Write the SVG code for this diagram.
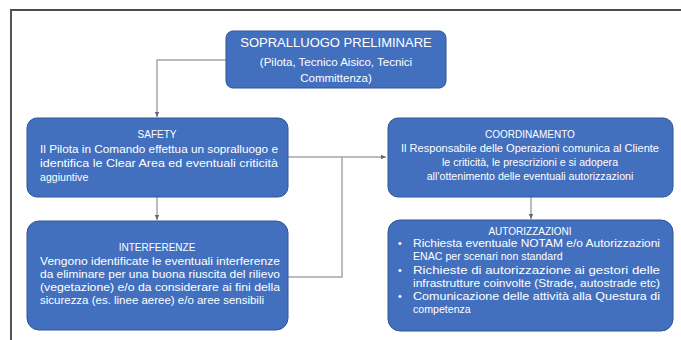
<svg xmlns="http://www.w3.org/2000/svg" width="681" height="340" viewBox="0 0 681 340">
<style>
.box{fill:#4270bf;stroke:#2f5597;stroke-width:1}
.t{font-family:"Liberation Sans","Open Sans",sans-serif;fill:#ffffff;font-size:10.6px}
.h{text-anchor:middle;font-size:10px}
.c{text-anchor:middle}
.big{font-size:13px}
.mid{font-size:11.5px}
.conn{fill:none;stroke:#a6a6a6;stroke-width:1.5}
</style>
<defs>
<marker id="ah" markerWidth="6" markerHeight="6" refX="5" refY="3" orient="auto" markerUnits="userSpaceOnUse">
<path d="M0,0.8 L5,3 L0,5.2 Z" fill="#5a6a80"/>
</marker>
</defs>
<rect x="0" y="0" width="681" height="340" fill="#ffffff"/>
<g id="frame">
<line x1="10" y1="10" x2="681" y2="10" stroke="#111" stroke-width="1.5"/>
<line x1="11" y1="10" x2="11" y2="340" stroke="#555" stroke-width="2"/>
</g>
<g id="connectors">
<polyline class="conn" points="226,60 157,60 157,117" marker-end="url(#ah)"/>
<line class="conn" x1="157" y1="197" x2="157" y2="220" marker-end="url(#ah)"/>
<polyline class="conn" points="288,157 386,157" marker-end="url(#ah)"/>
<polyline class="conn" points="288,277 342,277 342,157"/>
<line class="conn" x1="531" y1="197" x2="531" y2="219" marker-end="url(#ah)"/>
</g>
<g id="sopralluogo">
<rect class="box" x="226" y="31" width="220" height="57" rx="7"/>
<text class="t c big" x="336" y="47">SOPRALLUOGO PRELIMINARE</text>
<text class="t c mid" x="336" y="66">(Pilota, Tecnico Aisico, Tecnici</text>
<text class="t c mid" x="336" y="82">Committenza)</text>
</g>
<g id="safety">
<rect class="box" x="27" y="118" width="261" height="79" rx="10"/>
<text class="t h" x="157" y="138">SAFETY</text>
<text class="t" x="40" y="153" textLength="238" lengthAdjust="spacingAndGlyphs">Il Pilota in Comando effettua un sopralluogo e</text>
<text class="t" x="40" y="167" textLength="238" lengthAdjust="spacingAndGlyphs">identifica le Clear Area ed eventuali criticità</text>
<text class="t" x="40" y="181">aggiuntive</text>
</g>
<g id="interferenze">
<rect class="box" x="27" y="221" width="261" height="109" rx="12"/>
<text class="t h" x="157" y="251">INTERFERENZE</text>
<text class="t" x="40" y="265" textLength="240" lengthAdjust="spacingAndGlyphs">Vengono identificate le eventuali interferenze</text>
<text class="t" x="40" y="278" textLength="240" lengthAdjust="spacingAndGlyphs">da eliminare per una buona riuscita del rilievo</text>
<text class="t" x="40" y="291" textLength="240" lengthAdjust="spacingAndGlyphs">(vegetazione) e/o da considerare ai fini della</text>
<text class="t" x="40" y="304" textLength="224" lengthAdjust="spacingAndGlyphs">sicurezza (es. linee aeree) e/o aree sensibili</text>
</g>
<g id="coordinamento">
<rect class="box" x="388" y="118" width="285" height="79" rx="10"/>
<text class="t h" x="530" y="138">COORDINAMENTO</text>
<text class="t c" x="530" y="152" textLength="258" lengthAdjust="spacingAndGlyphs">Il Responsabile delle Operazioni comunica al Cliente</text>
<text class="t c" x="530" y="166">le criticità, le prescrizioni e si adopera</text>
<text class="t c" x="530" y="180">all’ottenimento delle eventuali autorizzazioni</text>
</g>
<g id="autorizzazioni">
<rect class="box" x="388" y="220" width="285" height="111" rx="12"/>
<text class="t h" x="530" y="235">AUTORIZZAZIONI</text>
<text class="t" x="398" y="247">•</text>
<text class="t" x="413" y="247" textLength="247" lengthAdjust="spacingAndGlyphs">Richiesta eventuale NOTAM e/o Autorizzazioni</text>
<text class="t" x="413" y="260">ENAC per scenari non standard</text>
<text class="t" x="398" y="274">•</text>
<text class="t" x="413" y="274" textLength="247" lengthAdjust="spacingAndGlyphs">Richieste di autorizzazione ai gestori delle</text>
<text class="t" x="413" y="287" textLength="247" lengthAdjust="spacingAndGlyphs">infrastrutture coinvolte (Strade, autostrade etc)</text>
<text class="t" x="398" y="300">•</text>
<text class="t" x="413" y="300" textLength="247" lengthAdjust="spacingAndGlyphs">Comunicazione delle attività alla Questura di</text>
<text class="t" x="413" y="313">competenza</text>
</g>
</svg>
